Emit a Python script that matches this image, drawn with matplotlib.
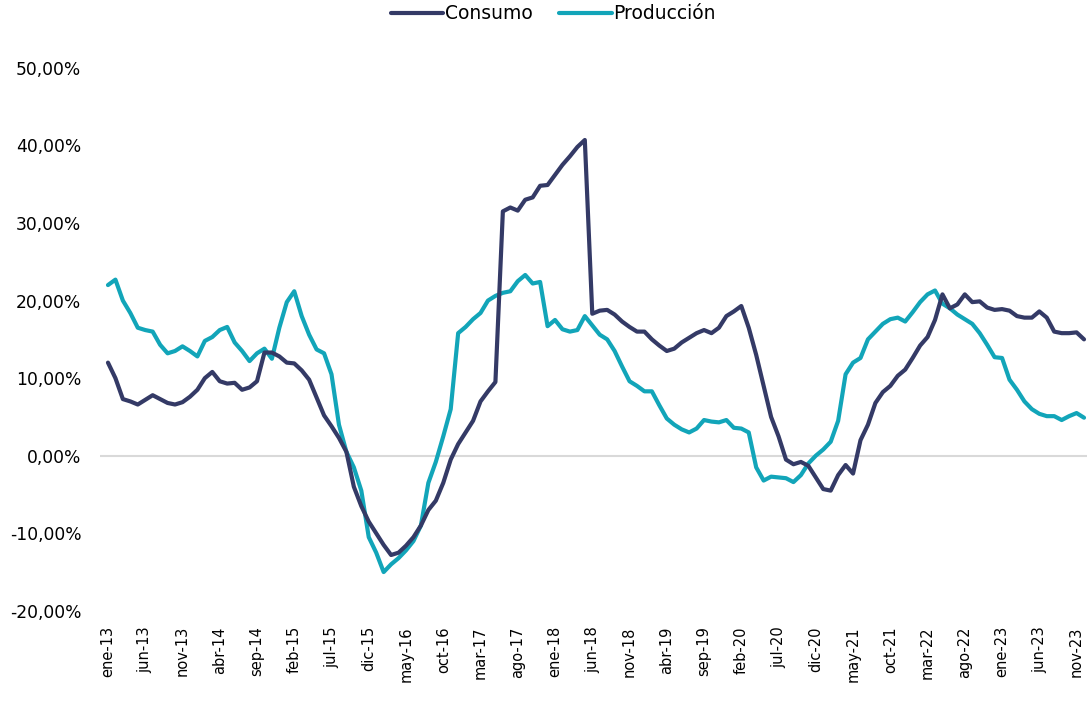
import numpy as np
import matplotlib
matplotlib.use('Agg')
import matplotlib.pyplot as plt
from matplotlib.ticker import FuncFormatter

# monthly series, ene-13 .. dic-23 (values in %)
meses = ['ene', 'feb', 'mar', 'abr', 'may', 'jun', 'jul', 'ago', 'sep', 'oct', 'nov', 'dic']
fechas = [m + '-' + str(a) for a in range(13, 24) for m in meses]

consumo = [12.0, 10.0, 7.3, 7.0, 6.6, 7.2, 7.8, 7.3, 6.8, 6.6, 6.9, 7.6,
           8.5, 10.0, 10.8, 9.6, 9.3, 9.4, 8.5, 8.8, 9.6, 13.3, 13.3, 12.8,
           12.0, 11.9, 11.0, 9.8, 7.5, 5.2, 3.8, 2.3, 0.5, -4.0, -6.5, -8.5,
           -10.0, -11.5, -12.8, -12.5, -11.6, -10.5, -9.0, -7.0, -5.8, -3.5, -0.5, 1.5,
           3.0, 4.5, 7.0, 8.3, 9.5, 31.5, 32.0, 31.6, 33.0, 33.3, 34.8, 34.9,
           36.2, 37.5, 38.6, 39.8, 40.7, 18.3, 18.7, 18.8, 18.2, 17.3, 16.6, 16.0,
           16.0, 15.0, 14.2, 13.5, 13.8, 14.6, 15.2, 15.8, 16.2, 15.8, 16.5, 18.0,
           18.6, 19.3, 16.5, 13.0, 9.0, 5.0, 2.5, -0.5, -1.1, -0.8, -1.3, -2.8,
           -4.3, -4.5, -2.5, -1.2, -2.3, 2.0, 4.0, 6.8, 8.2, 9.0, 10.3, 11.1,
           12.6, 14.2, 15.3, 17.5, 20.8, 19.0, 19.5, 20.8, 19.8, 19.9, 19.1, 18.8,
           18.9, 18.7, 18.0, 17.8, 17.8, 18.6, 17.8, 16.0, 15.8, 15.8, 15.9, 15.0]

produccion = [22.0, 22.7, 20.0, 18.4, 16.5, 16.2, 16.0, 14.3, 13.2, 13.5, 14.1, 13.5,
              12.8, 14.8, 15.3, 16.2, 16.6, 14.6, 13.5, 12.2, 13.2, 13.8, 12.5, 16.5,
              19.8, 21.2, 18.0, 15.6, 13.7, 13.2, 10.5, 4.0, 0.5, -1.5, -4.5, -10.5,
              -12.5, -15.0, -14.0, -13.2, -12.2, -11.0, -9.0, -3.5, -0.8, 2.5, 6.0, 15.8,
              16.6, 17.6, 18.4, 20.0, 20.6, 21.0, 21.2, 22.5, 23.3, 22.2, 22.4, 16.7,
              17.5, 16.3, 16.0, 16.2, 18.0, 16.8, 15.6, 15.0, 13.5, 11.5, 9.6, 9.0,
              8.3, 8.3, 6.5, 4.8, 4.0, 3.4, 3.0, 3.5, 4.6, 4.4, 4.3, 4.6,
              3.6, 3.5, 3.0, -1.5, -3.2, -2.7, -2.8, -2.9, -3.4, -2.5, -1.0, 0.0,
              0.8, 1.8, 4.5, 10.5, 12.0, 12.6, 15.0, 16.0, 17.0, 17.6, 17.8, 17.3,
              18.5, 19.8, 20.8, 21.3, 19.6, 19.0, 18.2, 17.6, 17.0, 15.8, 14.3, 12.7,
              12.6, 9.8, 8.5, 7.0, 6.0, 5.4, 5.1, 5.1, 4.6, 5.1, 5.5, 4.9]

x = np.arange(len(fechas))

fig = plt.figure(figsize=(10.87, 7.07), dpi=100)
ax = fig.add_axes([0.092, 0.136, 0.908, 0.768])

ax.axhline(0, color='#d9d9d9', lw=1.5, zorder=1)
ax.plot(x, consumo, color='#343a66', lw=3, label='Consumo', solid_capstyle='round', zorder=3)
ax.plot(x, produccion, color='#12a5b9', lw=3, label='Producción', solid_capstyle='round', zorder=2)

ax.set_xlim(-1.07, 131.4)
ax.set_ylim(-20, 50)
ax.set_yticks(range(-20, 51, 10))
ax.yaxis.set_major_formatter(FuncFormatter(lambda v, p: f'{v:.2f}'.replace('.', ',') + '%'))
ax.set_xticks(x[::5])
ax.set_xticklabels(fechas[::5], rotation=90, fontsize=10.5)

ax.tick_params(axis='y', length=0, pad=13.5, labelsize=12.3)
ax.tick_params(axis='x', length=0, pad=11)
for s in ax.spines.values():
    s.set_visible(False)

fig.legend(loc='upper center', bbox_to_anchor=(0.509, 1.018), ncol=2, frameon=False,
           fontsize=13.5, handlelength=2.8, handletextpad=0.1, columnspacing=1.4)

plt.savefig('out.png', dpi=100)
